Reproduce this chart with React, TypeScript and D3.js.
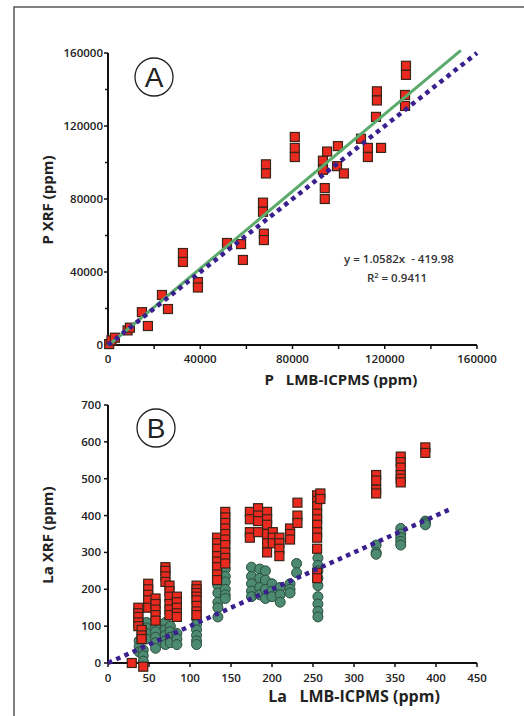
import React from "react";
import * as d3 from "d3";

const W = 524;
const H = 716;

// Panel A: P LMB-ICPMS (x) vs P XRF (y), ppm
const pointsA: [number, number][] = [
  [500, 500], [1500, 2500], [3000, 4000], [8500, 8000], [9500, 9500],
  [14700, 18000], [17300, 10400], [23400, 27400], [26000, 19700],
  [32500, 50400], [32500, 45500], [39000, 34500], [39000, 31500],
  [51600, 55900], [57700, 55300], [58500, 46600], [67200, 78000], [67200, 73000],
  [67600, 61000], [67600, 57500], [68500, 99000], [68500, 94000],
  [81000, 114000], [81000, 108000], [81000, 103000], [93200, 101000], [93200, 96000],
  [94000, 86000], [94000, 80000], [95000, 106000], [99700, 109000], [99300, 98000],
  [102300, 94000], [109700, 113000], [112700, 108000], [112700, 103000],
  [116600, 139000], [116600, 134000], [116200, 125000], [118400, 108000],
  [129200, 153000], [129200, 148000], [128800, 137000], [128800, 131000],
];

const regSlope = 1.0582;
const regIntercept = -419.98;
const regXMax = 153000;
const oneToOneA = 160000;

const ticksAMajor = [0, 40000, 80000, 120000, 160000];
const ticksAMinor = [20000, 60000, 100000, 140000];

// Panel B: La LMB-ICPMS (x) vs La XRF (y), ppm
const redColsB: [number, number[]][] = [
  [29, [0]],
  [43, [-10]],
  [37, [150, 135, 125, 110, 100]],
  [41, [90, 75, 65]],
  [49, [215, 200, 185, 170, 150]],
  [58, [175, 160, 145, 130, 115]],
  [70, [260, 250, 235, 220]],
  [75, [210, 195, 180, 160, 145, 130]],
  [84, [180, 165, 150, 135, 125]],
  [108, [210, 200, 190, 180, 170, 155, 140, 130]],
  [133, [340, 325, 310, 290, 275, 260, 240, 225]],
  [143, [410, 395, 380, 365, 350, 335, 320, 300, 285, 270]],
  [173, [410, 390, 355, 340]],
  [183, [420, 400, 385, 355]],
  [194, [410, 390, 375, 350, 325, 300]],
  [201, [355, 340, 325]],
  [209, [340, 325, 310, 290]],
  [222, [365, 350, 335]],
  [231, [435, 400, 380]],
  [255, [455, 440, 425, 405, 390, 375, 355, 340, 310, 245, 230]],
  [259, [460, 445]],
  [327, [510, 495, 470, 460]],
  [357, [560, 545, 530, 510, 500, 490]],
  [387, [585, 570]],
];

const greenColsB: [number, number[]][] = [
  [38, [60, 45, 30]],
  [43, [35, 20, 5]],
  [47, [110, 95, 80, 65]],
  [58, [100, 85, 70, 55, 40]],
  [70, [110, 90, 75, 60, 50]],
  [76, [100, 85, 70, 55]],
  [84, [80, 65, 50]],
  [108, [120, 105, 90, 75, 60, 50]],
  [134, [210, 190, 165, 150, 125]],
  [143, [255, 235, 220, 200, 185, 175]],
  [175, [260, 235, 215, 195, 180]],
  [185, [255, 230, 205, 185]],
  [192, [250, 225, 200, 175]],
  [200, [215, 195, 180]],
  [210, [205, 185, 165]],
  [222, [215, 200, 190]],
  [230, [270, 245]],
  [256, [285, 265, 250, 230, 210, 180, 160, 140, 125]],
  [327, [320, 300, 295]],
  [357, [365, 350, 340, 330, 320]],
  [387, [385, 380, 375]],
];

const oneToOneB = 420;
const ticksBX = [0, 50, 100, 150, 200, 250, 300, 350, 400, 450];
const ticksBY = [0, 100, 200, 300, 400, 500, 600, 700];

const FONT = "'Open Sans', 'Liberation Sans', sans-serif";
const RED = "#ea2a1f";
const RED_STROKE = "#3b2418";
const GREEN_PT = "#4c8b72";
const GREEN_STROKE = "#2b4d3d";
const REG = "#5cab6c";
const DOT = "#3a1f8f";

export default function App() {
  const xA = d3.scaleLinear().domain([0, 160000]).range([108, 477]);
  const yA = d3.scaleLinear().domain([0, 160000]).range([345, 53]);
  const xB = d3.scaleLinear().domain([0, 450]).range([108, 477]);
  const yB = d3.scaleLinear().domain([0, 700]).range([663, 405]);

  const line = d3.line<[number, number]>();
  const regPath = line([
    [xA(0), yA(regIntercept)],
    [xA(regXMax), yA(regSlope * regXMax + regIntercept)],
  ]);
  const oneA = line([
    [xA(0), yA(0)],
    [xA(oneToOneA), yA(oneToOneA)],
  ]);
  const oneB = line([
    [xB(0), yB(0)],
    [xB(oneToOneB), yB(oneToOneB)],
  ]);

  const redB = redColsB.flatMap(([x, ys]) => ys.map((y) => [x, y] as [number, number]));
  const greenB = greenColsB.flatMap(([x, ys]) => ys.map((y) => [x, y] as [number, number]));

  const sq = 9;
  const tickStyle = { fontFamily: FONT, fontSize: 11.5, fontWeight: 600, fill: "#222" } as const;
  const titleStyle = { fontFamily: FONT, fontSize: 15, fontWeight: 700, fill: "#222" } as const;

  return (
    <svg width={W} height={H} style={{ position: "absolute", left: 0, top: 0, background: "#fff" }}>
      <rect x={0} y={0} width={W} height={H} fill="#fff" />
      {/* frame */}
      <path d={`M14,${H} L14,7 L${W},7`} fill="none" stroke="#555" strokeWidth={1.5} />

      {/* ===== Panel A ===== */}
      {/* axes */}
      <line x1={xA(0)} x2={xA(0)} y1={yA(160000)} y2={yA(0)} stroke="#111" strokeWidth={2} />
      <line x1={xA(0)} x2={xA(160000)} y1={yA(0)} y2={yA(0)} stroke="#111" strokeWidth={2} />
      {ticksAMajor.map((t) => (
        <g key={"ay" + t}>
          <line x1={xA(0) - 4} x2={xA(0)} y1={yA(t)} y2={yA(t)} stroke="#111" strokeWidth={1.5} />
          <text x={xA(0) - 5} y={yA(t)} dy="0.35em" textAnchor="end" style={tickStyle}>{t}</text>
        </g>
      ))}
      {ticksAMinor.map((t) => (
        <line key={"aym" + t} x1={xA(0) - 3} x2={xA(0)} y1={yA(t)} y2={yA(t)} stroke="#111" strokeWidth={1.5} />
      ))}
      {[...ticksAMajor, ...ticksAMinor].map((t) => (
        <line key={"axt" + t} x1={xA(t)} x2={xA(t)} y1={yA(0)} y2={yA(0) + 4} stroke="#111" strokeWidth={1.5} />
      ))}
      {ticksAMajor.map((t) => (
        <text key={"axl" + t} x={xA(t)} y={yA(0) + 18} textAnchor="middle" style={tickStyle}>{t}</text>
      ))}
      <text x={341} y={385} textAnchor="middle" style={titleStyle} xmlSpace="preserve">{"P   LMB-ICPMS (ppm)"}</text>
      <text transform="translate(53,200) rotate(-90)" textAnchor="middle" style={titleStyle}>P XRF (ppm)</text>

      {/* points A */}
      {pointsA.map(([x, y], i) => (
        <rect key={"pa" + i} x={xA(x) - sq / 2} y={yA(y) - sq / 2} width={sq} height={sq}
          fill={RED} stroke={RED_STROKE} strokeWidth={1.2} />
      ))}
      <path d={regPath ?? ""} fill="none" stroke={REG} strokeWidth={3} />
      <path d={oneA ?? ""} fill="none" stroke={DOT} strokeWidth={4.5} strokeDasharray="4.5 4.5" />

      <text x={399} y={263} textAnchor="middle" style={{ fontFamily: FONT, fontSize: 11.5, fontWeight: 600, fill: "#333" }} xmlSpace="preserve">{"y = 1.0582x  - 419.98"}</text>
      <text x={397} y={282} textAnchor="middle" style={{ fontFamily: FONT, fontSize: 11.5, fontWeight: 600, fill: "#333" }}>
        R<tspan fontSize={7.5} dy={-4}>2</tspan><tspan dy={4}> = 0.9411</tspan>
      </text>

      <circle cx={154} cy={77} r={19} fill="#fff" stroke="#222" strokeWidth={1.3} />
      <text x={154} y={87} textAnchor="middle" style={{ fontFamily: "'Liberation Sans', Arial, sans-serif", fontSize: 28, fill: "#222" }}>A</text>

      {/* ===== Panel B ===== */}
      <line x1={xB(0)} x2={xB(0)} y1={yB(700)} y2={yB(0)} stroke="#111" strokeWidth={2} />
      <line x1={xB(0)} x2={xB(450)} y1={yB(0)} y2={yB(0)} stroke="#111" strokeWidth={2} />
      {ticksBY.map((t) => (
        <g key={"by" + t}>
          <line x1={xB(0) - 4} x2={xB(0)} y1={yB(t)} y2={yB(t)} stroke="#111" strokeWidth={1.5} />
          <text x={xB(0) - 7} y={yB(t)} dy="0.35em" textAnchor="end" style={tickStyle}>{t}</text>
        </g>
      ))}
      {ticksBX.map((t) => (
        <g key={"bx" + t}>
          <line x1={xB(t)} x2={xB(t)} y1={yB(0)} y2={yB(0) + 4} stroke="#111" strokeWidth={1.5} />
          <text x={xB(t)} y={yB(0) + 19} textAnchor="middle" style={tickStyle}>{t}</text>
        </g>
      ))}
      <text x={354} y={702} textAnchor="middle" style={{ ...titleStyle, fontSize: 16 }} xmlSpace="preserve">{"La   LMB-ICPMS (ppm)"}</text>
      <text transform="translate(53,535) rotate(-90)" textAnchor="middle" style={titleStyle}>La XRF (ppm)</text>

      {greenB.map(([x, y], i) => (
        <circle key={"gb" + i} cx={xB(x)} cy={yB(y)} r={5} fill={GREEN_PT} stroke={GREEN_STROKE} strokeWidth={1} />
      ))}
      {redB.map(([x, y], i) => (
        <rect key={"rb" + i} x={xB(x) - sq / 2} y={yB(y) - sq / 2} width={sq} height={sq}
          fill={RED} stroke={RED_STROKE} strokeWidth={1.2} />
      ))}
      <path d={oneB ?? ""} fill="none" stroke={DOT} strokeWidth={4.5} strokeDasharray="4.5 4.5" />

      <circle cx={156} cy={428} r={19} fill="#fff" stroke="#222" strokeWidth={1.3} />
      <text x={156} y={438} textAnchor="middle" style={{ fontFamily: "'Liberation Sans', Arial, sans-serif", fontSize: 28, fill: "#222" }}>B</text>
    </svg>
  );
}
